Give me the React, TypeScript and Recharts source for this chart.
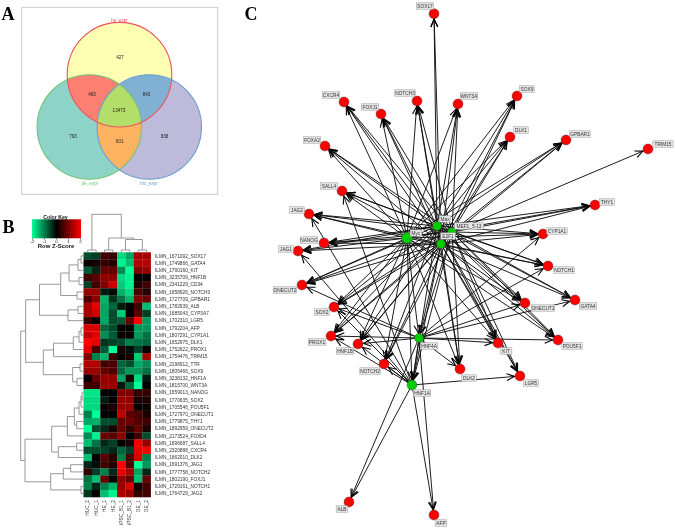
import React from "react";
import { ScatterChart, Scatter, XAxis, YAxis } from "recharts";

const W = 675, H = 530;
const SERIF = "'Liberation Serif', serif";
const SANS = "'Liberation Sans', Arial, sans-serif";

/* ---------- Panel A: Venn ---------- */
const vennNames = ["he_expr", "de_expr", "hic_expr"];
const vennCx = [119.5, 89.3, 149.3];
const vennCy = [74.7, 127, 127];
const vennR = [52.3, 52.2, 52.2];
const vennNameX = [119.5, 90, 149];
const vennNameY = [20.5, 183.5, 183.5];
const vennStroke = ["#e9545c", "#74c476", "#6b9fd0"];
const vennFill = ["#ffffb3", "#8dd3c7", "#bebada"];
const lensTable = [
  { a: 0, b: 1, c: -1, fill: "#fb8072" },
  { a: 0, b: 2, c: -1, fill: "#80b1d3" },
  { a: 1, b: 2, c: -1, fill: "#fdb462" },
  { a: 0, b: 1, c: 2, fill: "#b3de69" },
];
const vennCounts = ["427", "463", "843", "13473", "793", "601", "838"];
const vennCountX = [120, 92, 146.5, 119, 73, 119.7, 164.5];
const vennCountY = [57, 94, 94, 110, 136, 141, 136];

/* ---------- Panel B: heat map ---------- */
const colLabels = ["HUC_2", "HUC_1", "HE_1", "HE_2", "iPSC_B1_1", "iPSC_B1_2", "DE_1", "DE_2"];
const rowLabels = [
  "ILMN_1671092_SOX17", "ILMN_1749866_GATA4", "ILMN_1790160_KIT", "ILMN_3235709_HNF1B", "ILMN_2341229_CD34",
  "ILMN_1658926_NOTCH3", "ILMN_1727709_GPBAR1", "ILMN_1782939_ALB", "ILMN_1685043_CYP3A7", "ILMN_1702310_LGR5",
  "ILMN_1792204_AFP", "ILMN_1807291_CYP1A1", "ILMN_1652975_DLK1", "ILMN_1752622_PROX1", "ILMN_1754476_TRIM15",
  "ILMN_2198912_TTR", "ILMN_1805466_SOX9", "ILMN_3238132_HNF1A", "ILMN_1815700_WNT3A", "ILMN_1659013_NANOG",
  "ILMN_1770635_SOX2", "ILMN_1705546_POU5F1", "ILMN_1727970_ONECUT1", "ILMN_1779875_THY1", "ILMN_1892959_ONECUT2",
  "ILMN_2173524_FOXD4", "ILMN_1696687_SALL4", "ILMN_2320888_CXCR4", "ILMN_1662010_DLK2", "ILMN_1691376_JAG1",
  "ILMN_1777758_NOTCH2", "ILMN_1802190_FOXJ1", "ILMN_1729161_NOTCH1", "ILMN_1764729_JAG2",
];
const heatRows = [
  [-0.6, -0.5, 0.5, 0.4, -1.7, -1.3, 1.3, 1.3],
  [0.1, 0.2, 0.4, 0.3, -1.9, -1.5, 1.4, 1.4],
  [-0.7, -0.3, 0.8, 0.8, -1.1, -2, 1, 1.2],
  [0.5, 0.7, 1.1, 1.1, -1.7, -1.9, 0, 0],
  [-0.5, 0.5, 1, 1.6, -1.6, -1.9, 0.2, 0.5],
  [1.2, 1.2, -0.2, -0.1, -1.4, -1.7, 0.6, 0.3],
  [0.6, 1.1, -1.4, -0.4, -0.9, -1.4, 1, 0.8],
  [1.3, 1.8, -1.3, -0.8, -0.2, 0, 0.5, -1.5],
  [1.3, 1.6, -1.3, -0.6, -1.6, 0, 0.7, -0.5],
  [0.4, 0.1, -1.3, -0.6, -0.7, 0.8, 2, -1.2],
  [1.7, 1.7, -0.8, -0.6, 0, 0, -1.2, -1.2],
  [1.5, 1.8, -1.1, -0.7, 0.1, 0.1, -1.2, -0.9],
  [2, 1.8, -0.4, -0.5, -0.6, -1, -0.9, -0.8],
  [1.8, 0.6, -0.7, -2, 0.2, -0.1, -0.5, 0],
  [1, -1, -1.4, 0.4, 0, 0.2, -1.6, 1.3],
  [1.4, 1.4, 0.5, 0.6, -0.8, -0.6, -1.3, -1.1],
  [1.2, 1.2, 0.8, 0.6, -0.8, -1.2, -1.2, -0.9],
  [0, 0.8, 1.2, 1.2, -1.3, 0.2, -1.7, -0.2],
  [0.5, 0.5, 1.2, 1.2, -0.2, -0.8, -2, 0],
  [-1.8, -1.8, 0, 0, 1, 1, 0.4, 0.4],
  [-1.7, -1.7, -0.2, 0, 1.2, 1.2, 0.2, 0.2],
  [-1.7, -1.7, 0.1, 0.2, 1.2, 1.2, 0, 0.1],
  [-1, -2, 0, 0, 1.5, 0.7, 0.6, 0.2],
  [-1.3, -1.4, -0.6, -0.6, 0.8, 0.9, 0.6, 0.5],
  [-2, -0.6, -0.3, 0.2, 0.8, 0.4, 0.8, 0.2],
  [-1.1, -1.9, 0.8, 0.7, 1.1, 0, 0.5, -0.6],
  [-1.5, -0.9, -0.3, -0.5, 0, 0.2, 1.9, 1.2],
  [-0.6, -0.6, -0.5, -0.3, -0.8, -0.5, 1.8, 2],
  [-1.5, 0, 0.7, 0.3, -1, 0.6, 1.7, -1],
  [-0.3, -0.1, 0.5, 0.3, 2, 0.6, -2, -1.2],
  [0.4, -0.5, -1, -0.3, 1.8, 1.3, -1.3, -0.3],
  [-0.9, -1.5, 0.8, 0, 1.1, 0.8, -1.5, 0.8],
  [-1, -0.3, -1, -1.4, 1.2, 1.7, 0.1, 0.5],
  [-0.4, 0, -1.5, -1.9, 1.4, 1.2, 0.4, 0.5],
];
const keyTicks = [-2, -1, 0, 1, 2];

// Dendrograms: [height, child, child]; a number is a leaf index.
type Tree = number | [number, Tree, Tree];
const rowTree: Tree = [20.7,
  [25.7,
    [39.5,
      [60.7,
        [69, [78, [81, 0, 1], 2], [79, 3, 4]],
        [77, 5, 6]],
      [68, [78, 7, 8], 9]],
    [43.3,
      [53.5, [73.3, [79, [81, 10, 11], 12], 13], 14],
      [72.7, [80, 15, 16], [77, 17, 18]]]],
  [25,
    [51.7,
      [67.3,
        [74.3, [79, [81, [82, 19, 20], 21], 22], [76.7, 23, 24]],
        25],
      [58.3, [76.7, 26, 27], 28]],
    [50.7, [63.3, [70.7, 29, 30], 31], [81, 32, 33]]]];
const colTree: Tree = [214.3,
  [250, 0, 1],
  [238, [250, 2, 3], [239.5, [250, 4, 5], [250, 6, 7]]]];

/* ---------- Panel C: network ---------- */
const tfNames = ["Myc", "Max", "MEF1_5-13", "E2F1", "HNF4A", "HNF1A"];
const tfX = [407, 437, 452, 441, 419, 412];
const tfY = [238, 226, 232, 244, 338, 385];
const tfR = [5.5, 4.5, 4.5, 4.5, 4.5, 5];
const tfLabelX = [416, 445, 469, 448, 429, 422];
const tfLabelY = [233, 219, 226, 236, 346, 393];

const geneNames = ["SOX17", "CXCR4", "FOXJ1", "NOTCH3", "WNT3A", "SOX9", "DLK1", "GPBAR1", "TRIM15", "FOXA2", "SALL4", "JAG2", "NANOG", "JAG1", "ONECUT2", "SOX2", "PROX1", "HNF1B", "NOTCH2", "DLK2", "LGR5", "KIT", "POU5F1", "ONECUT1", "GATA4", "NOTCH1", "CYP1A1", "THY1", "ALB", "AFP"];
const geneX = [434, 344, 381, 417, 458, 517, 510, 566, 648, 325, 342, 309, 324, 298, 302, 334, 331, 358, 384, 460, 520, 498, 558, 525, 575, 548, 543, 595, 349, 434];
const geneY = [13.7, 102, 114, 101, 104, 96, 137, 140, 149, 146, 191, 214, 243, 251, 285, 307, 336, 344, 364, 369, 376, 343, 340, 303, 300, 266, 234, 205, 502, 515];
const geneLabelX = [425, 331, 370, 405, 469, 527, 521, 580, 663, 312, 329, 297, 309, 286, 285, 322, 317, 345, 370, 469, 531, 506, 572, 543, 588, 564, 557, 607, 342, 441];
const geneLabelY = [6, 95, 107, 93, 96, 89, 130, 134, 144, 140, 186, 210, 240, 249, 290, 312, 342, 351, 371, 378, 383, 351, 346, 308, 306, 270, 231, 202, 509, 523];
const geneRegulators = [
  ["Max", "E2F1"],
  ["Myc", "Max", "E2F1", "MEF1_5-13"],
  ["Myc", "Max", "E2F1", "MEF1_5-13"],
  ["Myc", "Max", "E2F1", "MEF1_5-13"],
  ["Myc", "Max", "E2F1", "MEF1_5-13"],
  ["Myc", "Max", "E2F1", "MEF1_5-13"],
  ["Myc", "Max", "E2F1", "MEF1_5-13"],
  ["Myc", "Max", "E2F1", "MEF1_5-13"],
  ["MEF1_5-13"],
  ["Myc", "Max", "E2F1", "MEF1_5-13"],
  ["Myc", "Max", "E2F1", "MEF1_5-13", "HNF1A"],
  ["Myc", "Max", "E2F1", "MEF1_5-13", "HNF1A"],
  ["Myc", "Max", "E2F1", "MEF1_5-13"],
  ["Myc", "Max", "E2F1", "HNF1A"],
  ["Myc", "Max", "E2F1", "MEF1_5-13", "HNF4A"],
  ["Myc", "Max", "E2F1", "MEF1_5-13", "HNF4A", "HNF1A"],
  ["Myc", "Max", "E2F1", "MEF1_5-13", "HNF4A", "HNF1A"],
  ["Myc", "Max", "E2F1", "MEF1_5-13", "HNF4A", "HNF1A"],
  ["Myc", "Max", "E2F1", "MEF1_5-13", "HNF1A"],
  ["Myc", "Max", "E2F1", "MEF1_5-13", "HNF4A"],
  ["Max", "E2F1", "MEF1_5-13", "HNF1A"],
  ["Myc", "Max", "E2F1", "MEF1_5-13", "HNF4A"],
  ["Myc", "Max", "E2F1", "MEF1_5-13", "HNF4A"],
  ["Myc", "Max", "E2F1", "MEF1_5-13", "HNF4A"],
  ["Max", "E2F1", "MEF1_5-13", "HNF4A"],
  ["Myc", "Max", "E2F1", "MEF1_5-13", "HNF4A"],
  ["Myc", "Max", "E2F1", "MEF1_5-13", "HNF4A"],
  ["Myc", "Max", "E2F1", "MEF1_5-13"],
  ["HNF4A", "HNF1A"],
  ["HNF4A", "HNF1A"],
];
const tfRegulators: string[][] = [[], [], [], [], ["Myc", "E2F1", "MEF1_5-13"], ["Myc", "Max", "E2F1", "MEF1_5-13", "HNF4A"]];

/* ---------- layout ---------- */
const HEAT_L = 83.5, HEAT_T = 252.3, CELL_W = 8.4, CELL_H = 7.2;
const colX = (c: number) => HEAT_L + CELL_W * (c + 0.5);
const rowY = (r: number) => HEAT_T + CELL_H * (r + 0.5);
const heatColor = (z: number) => {
  const t = Math.min(Math.abs(z) / 2, 1);
  return z >= 0 ? `rgb(${Math.round(255 * t)},0,0)` : `rgb(0,${Math.round(255 * t)},${Math.round(150 * t)})`;
};

/* ---------- tables ---------- */
const heatCells = heatRows.flatMap((row, r) => row.map((z, c) => ({ x: colX(c), y: rowY(r), z })));

const treeLines = (t: Tree, horizontal: boolean, out: { x: number; y: number }[][]): { h: number; p: number } => {
  if (typeof t === "number") return { h: horizontal ? 83.5 : 252.3, p: horizontal ? rowY(t) : colX(t) };
  const a = treeLines(t[1], horizontal, out);
  const b = treeLines(t[2], horizontal, out);
  const pts = [[a.h, a.p], [t[0], a.p], [t[0], b.p], [b.h, b.p]];
  out.push(pts.map(([h, p]) => (horizontal ? { x: h, y: p } : { x: p, y: h })));
  return { h: t[0], p: (a.p + b.p) / 2 };
};
const dendroLines: { x: number; y: number }[][] = [];
treeLines(rowTree, true, dendroLines);
treeLines(colTree, false, dendroLines);

const tfIndex = (n: string) => tfNames.indexOf(n);
const nodeEdges = [
  ...geneNames.flatMap((_, i) => geneRegulators[i].map((s) => ({ sx: tfX[tfIndex(s)], sy: tfY[tfIndex(s)], tx: geneX[i], ty: geneY[i], r: 5 }))),
  ...tfNames.flatMap((_, i) => tfRegulators[i].map((s) => ({ sx: tfX[tfIndex(s)], sy: tfY[tfIndex(s)], tx: tfX[i], ty: tfY[i], r: tfR[i] }))),
];
const geneNodes = geneNames.map((_, i) => ({ x: geneX[i], y: geneY[i], r: 5, fill: "#ff0000" }));
const tfNodes = tfNames.map((_, i) => ({ x: tfX[i], y: tfY[i], r: tfR[i], fill: "#00cc00" }));
const nodeLabels = [
  ...geneNames.map((t, i) => ({ x: geneLabelX[i], y: geneLabelY[i], t })),
  ...tfNames.map((t, i) => ({ x: tfLabelX[i], y: tfLabelY[i], t })),
];

type T = { x: number; y: number; t: string };
const texts = (xs: number[], ys: number[], ts: string[]): T[] => ts.map((t, i) => ({ x: xs[i], y: ys[i], t }));

/* ---------- shapes ---------- */
const Nothing = () => <g />;

const textShape = (o: { size: number; fill?: string; anchor?: string; family?: string; weight?: string; rotate?: boolean; dy?: number }) => (p: any) => (
  <text
    x={p.cx}
    y={p.cy}
    dy={o.dy ?? o.size * 0.35}
    fontSize={o.size}
    fontFamily={o.family ?? SANS}
    fontWeight={o.weight ?? "normal"}
    fill={o.fill ?? "#333"}
    textAnchor={o.anchor ?? "middle"}
    transform={o.rotate ? `rotate(-90 ${p.cx} ${p.cy})` : undefined}
  >
    {p.payload.t}
  </text>
);

const FrameShape = (p: any) => (
  <rect x={p.cx} y={p.cy} width={196} height={187} fill="#fff" stroke="#cccccc" strokeWidth={1} />
);

const VennCircle = (p: any) => (
  <circle cx={p.cx} cy={p.cy} r={p.payload.r} fill={p.payload.fill} stroke="none" />
);
const VennOutline = (p: any) => (
  <circle cx={p.cx} cy={p.cy} r={p.payload.r} fill="none" stroke={p.payload.stroke} strokeWidth={1.1} />
);
const clipCircle = (i: number) => <circle cx={vennCx[i]} cy={vennCy[i]} r={vennR[i]} />;
const LensShape = (p: any) => {
  const { a, b, c, fill } = p.payload;
  const idB = `clip-${a}-${b}-${c}-b`;
  const idC = `clip-${a}-${b}-${c}-c`;
  return (
    <g>
      <clipPath id={idB}>{clipCircle(b)}</clipPath>
      {c >= 0 && <clipPath id={idC}>{clipCircle(c)}</clipPath>}
      <g clipPath={c >= 0 ? `url(#${idC})` : undefined}>
        <circle cx={p.cx} cy={p.cy} r={vennR[a]} fill={fill} clipPath={`url(#${idB})`} />
      </g>
    </g>
  );
};

const CellShape = (p: any) => (
  <rect x={p.cx - CELL_W / 2} y={p.cy - CELL_H / 2} width={CELL_W + 0.2} height={CELL_H + 0.2} fill={heatColor(p.payload.z)} />
);
const KeyShape = (p: any) => (
  <g>
    <defs>
      <linearGradient id="keyGrad" x1="0" x2="1" y1="0" y2="0">
        <stop offset="0" stopColor={heatColor(-2)} />
        <stop offset="0.5" stopColor={heatColor(0)} />
        <stop offset="1" stopColor={heatColor(2)} />
      </linearGradient>
    </defs>
    <rect x={p.cx} y={p.cy} width={49} height={19} fill="url(#keyGrad)" />
  </g>
);
const TickShape = (p: any) => <line x1={p.cx} x2={p.cx} y1={p.cy} y2={p.cy + 1.5} stroke="#333" strokeWidth={0.6} />;

const NodeShape = (p: any) => (
  <circle cx={p.cx} cy={p.cy} r={p.payload.r} fill={p.payload.fill} stroke="#333" strokeWidth={0.4} />
);
const ArrowShape = (p: any) => {
  const d = p.payload;
  if (d.role !== "target") return <g />;
  const a = Math.atan2(d.y - d.sy, d.x - d.sx);
  const tipX = p.cx - (d.r + 0.5) * Math.cos(a);
  const tipY = p.cy - (d.r + 0.5) * Math.sin(a);
  const wing = (s: number) => `${tipX - 8.5 * Math.cos(a + s * 0.42)},${tipY - 8.5 * Math.sin(a + s * 0.42)}`;
  return <polyline points={`${wing(1)} ${tipX},${tipY} ${wing(-1)}`} fill="none" stroke="#000" strokeWidth={1.1} />;
};
const LabelShape = (p: any) => {
  const t = p.payload.t as string;
  const w = t.length * 2.9 + 3;
  return (
    <g>
      <rect x={p.cx - w / 2} y={p.cy - 3.2} width={w} height={6.4} fill="#e6e6e6" stroke="#999" strokeWidth={0.5} />
      <text x={p.cx} y={p.cy + 1.7} fontSize={4.8} fontFamily={SANS} fill="#333" textAnchor="middle">{t}</text>
    </g>
  );
};

/* ---------- chart ---------- */
export default function App() {
  return (
    <div style={{ position: "absolute", left: 0, top: 0, width: W, height: H, filter: "blur(0.3px)" }}>
      <ScatterChart width={W} height={H} margin={{ top: 0, right: 0, bottom: 0, left: 0 }}>
        <XAxis type="number" dataKey="x" domain={[0, W]} hide />
        <YAxis type="number" dataKey="y" domain={[0, H]} reversed hide />

        {/* Panel A */}
        <Scatter data={[{ x: 21.7, y: 7.3 }]} shape={FrameShape} isAnimationActive={false} />
        <Scatter data={[1, 2, 0].map((i) => ({ x: vennCx[i], y: vennCy[i], r: vennR[i], fill: vennFill[i] }))} shape={VennCircle} isAnimationActive={false} />
        <Scatter data={lensTable.map((l) => ({ ...l, x: vennCx[l.a], y: vennCy[l.a] }))} shape={LensShape} isAnimationActive={false} />
        <Scatter data={[1, 2, 0].map((i) => ({ x: vennCx[i], y: vennCy[i], r: vennR[i], stroke: vennStroke[i] }))} shape={VennOutline} isAnimationActive={false} />
        <Scatter data={texts(vennCountX, vennCountY, vennCounts)} shape={textShape({ size: 4.6, fill: "#222" })} isAnimationActive={false} />
        {vennNames.map((n, i) => (
          <Scatter key={n} data={[{ x: vennNameX[i], y: vennNameY[i], t: n }]} shape={textShape({ size: 4.6, fill: vennStroke[i] })} isAnimationActive={false} />
        ))}

        {/* Panel B */}
        <Scatter data={heatCells} shape={CellShape} isAnimationActive={false} />
        {dendroLines.map((pts, i) => (
          <Scatter key={`d${i}`} data={pts} line={{ stroke: "#8c8c8c", strokeWidth: 0.9 }} lineType="joint" shape={Nothing} isAnimationActive={false} />
        ))}
        <Scatter data={rowLabels.map((t, r) => ({ x: 155, y: rowY(r), t }))} shape={textShape({ size: 4.8, anchor: "start", fill: "#333" })} isAnimationActive={false} />
        <Scatter data={colLabels.map((t, c) => ({ x: colX(c), y: 500, t }))} shape={textShape({ size: 4.8, anchor: "end", rotate: true, fill: "#333", dy: 1.7 })} isAnimationActive={false} />
        <Scatter data={[{ x: 32, y: 219.3 }]} shape={KeyShape} isAnimationActive={false} />
        <Scatter data={keyTicks.map((z) => ({ x: 56.5 + z * 12, y: 238.3 }))} shape={TickShape} isAnimationActive={false} />
        <Scatter data={keyTicks.map((z) => ({ x: 56.5 + z * 12, y: 241.5, t: String(z) }))} shape={textShape({ size: 4.4, fill: "#222" })} isAnimationActive={false} />
        <Scatter data={[{ x: 55.5, y: 216.8, t: "Color Key" }]} shape={textShape({ size: 5.2, fill: "#111", weight: "bold" })} isAnimationActive={false} />
        <Scatter data={[{ x: 56, y: 246.3, t: "Row Z-Score" }]} shape={textShape({ size: 6, fill: "#111", weight: "bold" })} isAnimationActive={false} />

        {/* Panel C */}
        {nodeEdges.map((e, i) => (
          <Scatter
            key={`e${i}`}
            data={[
              { x: e.sx, y: e.sy, role: "source" },
              { x: e.tx, y: e.ty, sx: e.sx, sy: e.sy, r: e.r, role: "target" },
            ]}
            line={{ stroke: "#111", strokeWidth: 0.95 }}
            lineType="joint"
            shape={ArrowShape}
            isAnimationActive={false}
          />
        ))}
        <Scatter data={geneNodes} shape={NodeShape} isAnimationActive={false} />
        <Scatter data={tfNodes} shape={NodeShape} isAnimationActive={false} />
        <Scatter data={nodeLabels} shape={LabelShape} isAnimationActive={false} />

        {/* Panel letters */}
        <Scatter
          data={[{ x: 8, y: 14, t: "A" }, { x: 8.5, y: 227, t: "B" }, { x: 251, y: 14, t: "C" }]}
          shape={textShape({ size: 18, fill: "#000", weight: "bold", family: SERIF })}
          isAnimationActive={false}
        />
      </ScatterChart>
    </div>
  );
}
